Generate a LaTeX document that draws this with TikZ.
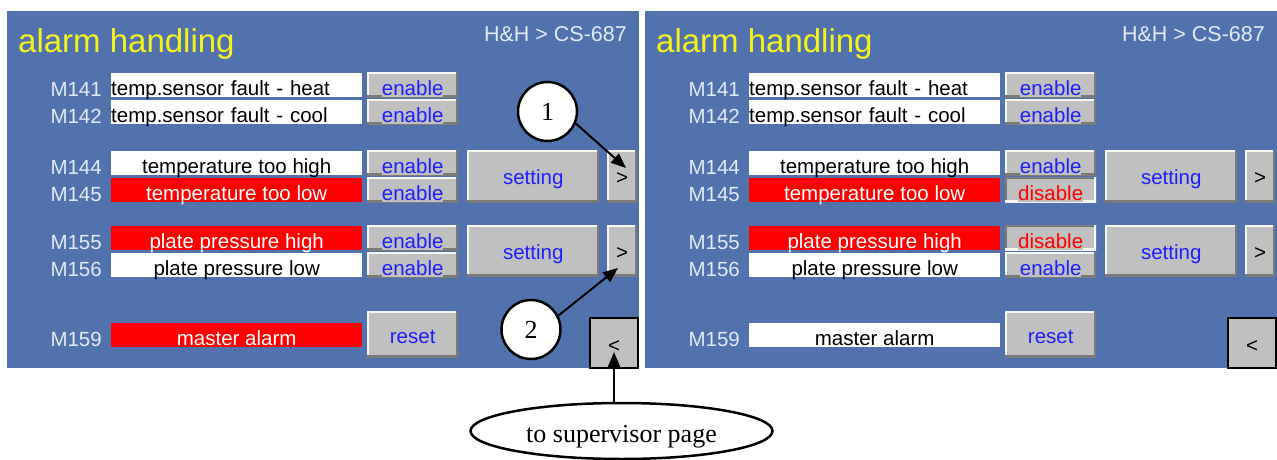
\documentclass[tikz,border=0pt]{standalone}
\usepackage{fontspec}
\setmainfont{Liberation Serif}
\setsansfont{Liberation Sans}
\usetikzlibrary{shapes.geometric,arrows.meta}
\definecolor{panelblue}{HTML}{5272AE}
\definecolor{alarmred}{HTML}{FF0000}
\definecolor{btngray}{HTML}{C0C0C0}
\definecolor{btnblue}{HTML}{1E1EFF}
\definecolor{tagwhite}{HTML}{E2EAF4}
\definecolor{titleyellow}{HTML}{F4F41C}
\definecolor{bevlight}{HTML}{F6F6F6}
\definecolor{bevdark}{HTML}{7A7A7A}
\newcommand{\gtxt}[1]{{\fboxsep=0pt\colorbox{btngray}{\rule[-2pt]{0pt}{2pt}#1}}}
\tikzset{
    every node/.style={inner sep=0pt, font=\sffamily\fontsize{20.5}{24}\selectfont}
}
\tikzset{
    panel/.style={anchor=north west, fill=panelblue, minimum width=632pt, minimum height=357pt},
    title/.style={anchor=base west, text=titleyellow, font=\sffamily\fontsize{33}{36}\selectfont},
    head/.style={anchor=base east, text=tagwhite, font=\sffamily\fontsize{21.5}{24}\selectfont},
    tag/.style={anchor=base east, text=tagwhite},
    field/.style={anchor=north west, minimum width=251pt, minimum height=24pt, text height=22pt, text depth=2pt},
    ok/.style={field, fill=white, text=black},
    okleft/.style={ok, text width=251pt, align=left},
    alarm/.style={field, fill=alarmred, text=white},
    bevel/.style 2 args={path picture={
        \draw[#1, line width=4pt] (path picture bounding box.south west) -- (path picture bounding box.north west) -- (path picture bounding box.north east);
        \draw[#2, line width=4pt] (path picture bounding box.north east) -- (path picture bounding box.south east) -- (path picture bounding box.south west);}},
    key/.style={anchor=north west, fill=btngray, text=btnblue, minimum width=91pt, minimum height=25pt, text height=23pt, text depth=2pt, bevel={bevlight}{bevdark}},
    keyon/.style={key, bevel={bevdark}{bevlight}, text=alarmred},
    bigkey/.style={anchor=north west, fill=btngray, text=btnblue, text height=20pt, text depth=3pt, bevel={bevlight}{bevdark}},
    backkey/.style={anchor=north west, fill=btngray, draw=black, line width=2pt, text height=21pt, text depth=3pt, minimum width=48pt, minimum height=50pt},
    num/.style={circle, draw, fill=white, line width=2.5pt, minimum size=59pt, font=\rmfamily\fontsize{26}{30}\selectfont},
    note/.style={ellipse, draw, line width=2.5pt, minimum width=302pt, minimum height=56pt, text height=24pt, text depth=2pt, font=\rmfamily\fontsize{26}{30}\selectfont},
    pointer/.style={-{Triangle[length=15pt,width=12pt]}, line width=2pt}
}

\begin{document}
\begin{tikzpicture}[x=1pt, y=-1pt]
  \useasboundingbox (0,0) rectangle (1277,460);

  \node (lpanel) [panel] at (7,11) {};
  \node (ltitle) [title] at (18,53) {alarm handling};
  \node (lhead) [head] at (627,42) {H\&H > CS-687};

  \node (lm141) [tag] at (102,96) {M141};
  \node (lm142) [tag] at (102,123) {M142};
  \node (lm144) [tag] at (102,174) {M144};
  \node (lm145) [tag] at (102,201) {M145};
  \node (lm155) [tag] at (102,249) {M155};
  \node (lm156) [tag] at (102,276) {M156};
  \node (lm159) [tag] at (102,346) {M159};

  \node (lf141) [okleft] at (111,73) {temp.sensor fault - heat};
  \node (lf142) [okleft] at (111,100) {temp.sensor fault - cool};
  \node (lf144) [ok] at (111,151) {temperature too high};
  \node (lf145) [alarm] at (111,178) {temperature too low};
  \node (lf155) [alarm] at (111,226) {plate pressure high};
  \node (lf156) [ok] at (111,253) {plate pressure low};
  \node (lf159) [alarm] at (111,323) {master alarm};

  \node (lk141) [key] at (367,72) {\gtxt{enable}};
  \node (lk142) [key] at (367,99) {\gtxt{enable}};
  \node (lk144) [key] at (367,150) {\gtxt{enable}};
  \node (lk145) [key] at (367,177) {\gtxt{enable}};
  \node (lk155) [key] at (367,225) {\gtxt{enable}};
  \node (lk156) [key] at (367,252) {\gtxt{enable}};

  \node (lset1) [bigkey, minimum width=132pt, minimum height=52pt] at (467,150) {setting};
  \node (lset2) [bigkey, minimum width=132pt, minimum height=51pt] at (467,225) {setting};
  \node (lnext1) [bigkey, text=black, minimum width=30pt, minimum height=52pt] at (607,150) {>};
  \node (lnext2) [bigkey, text=black, minimum width=30pt, minimum height=51pt] at (607,225) {>};
  \node (lreset) [bigkey, text height=21pt, minimum width=91pt, minimum height=46pt] at (367,311) {reset};
  \node (lback) [backkey] at (589,317) {<};

  \node (rpanel) [panel] at (645,11) {};
  \node (rtitle) [title] at (656,53) {alarm handling};
  \node (rhead) [head] at (1265,42) {H\&H > CS-687};

  \node (rm141) [tag] at (740,96) {M141};
  \node (rm142) [tag] at (740,123) {M142};
  \node (rm144) [tag] at (740,174) {M144};
  \node (rm145) [tag] at (740,201) {M145};
  \node (rm155) [tag] at (740,249) {M155};
  \node (rm156) [tag] at (740,276) {M156};
  \node (rm159) [tag] at (740,346) {M159};

  \node (rf141) [okleft] at (749,73) {temp.sensor fault - heat};
  \node (rf142) [okleft] at (749,100) {temp.sensor fault - cool};
  \node (rf144) [ok] at (749,151) {temperature too high};
  \node (rf145) [alarm] at (749,178) {temperature too low};
  \node (rf155) [alarm] at (749,226) {plate pressure high};
  \node (rf156) [ok] at (749,253) {plate pressure low};
  \node (rf159) [ok] at (749,323) {master alarm};

  \node (rk141) [key] at (1005,72) {\gtxt{enable}};
  \node (rk142) [key] at (1005,99) {\gtxt{enable}};
  \node (rk144) [key] at (1005,150) {\gtxt{enable}};
  \node (rk145) [keyon] at (1005,177) {\gtxt{disable}};
  \node (rk155) [keyon] at (1005,225) {\gtxt{disable}};
  \node (rk156) [key] at (1005,252) {\gtxt{enable}};

  \node (rset1) [bigkey, minimum width=132pt, minimum height=52pt] at (1105,150) {setting};
  \node (rset2) [bigkey, minimum width=132pt, minimum height=51pt] at (1105,225) {setting};
  \node (rnext1) [bigkey, text=black, minimum width=30pt, minimum height=52pt] at (1245,150) {>};
  \node (rnext2) [bigkey, text=black, minimum width=30pt, minimum height=51pt] at (1245,225) {>};
  \node (rreset) [bigkey, text height=21pt, minimum width=91pt, minimum height=46pt] at (1005,311) {reset};
  \node (rback) [backkey] at (1227,317) {<};

  \node (c1) [num] at (547.5,111.5) {1};
  \node (c2) [num] at (531,329.5) {2};
  \node (sup) [note] at (621.5,431) {to supervisor page};

  \coordinate (tip1) at (626,168);
  \coordinate (tip2) at (618,268);
  \coordinate (tip3) at (614,352);

  \draw[pointer] (c1.-23) -- (tip1);
  \draw[pointer] (c2.27) -- (tip2);
  \draw[pointer] (sup.north -| tip3) -- (tip3);
\end{tikzpicture}
\end{document}
